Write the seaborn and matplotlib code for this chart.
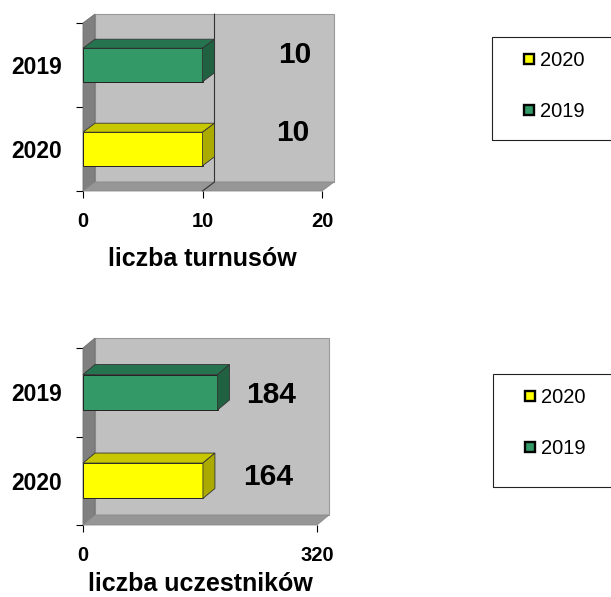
import matplotlib
matplotlib.use("Agg")
import matplotlib.pyplot as plt
import seaborn as sns
from matplotlib.patches import Polygon, Rectangle
from matplotlib.transforms import IdentityTransform
from matplotlib.lines import Line2D

# data
years = ["2019", "2020"]
turnusy = [10, 10]
uczestnicy = [184, 164]
legend_years = ["2020", "2019"]

front_col = {"2019": "#339966", "2020": "#FFFF00"}
top_col = {"2019": "#267350", "2020": "#C8C800"}
side_col = {"2019": "#1F6141", "2020": "#AAAA00"}

W, H = 611, 597

sns.set_style("white")
plt.rcParams["font.family"] = ["Liberation Sans", "DejaVu Sans"]
plt.rcParams["text.color"] = "black"
plt.rcParams["xtick.color"] = "black"
plt.rcParams["ytick.color"] = "black"
plt.rcParams["axes.labelcolor"] = "black"

fig = plt.figure(figsize=(W / 100, H / 100), dpi=100)
ident = IdentityTransform()


def poly(ax, pts, fc, z, ec="#333333", lw=0.6):
    ax.add_patch(Polygon(pts, closed=True, fc=fc, ec=ec, lw=lw, zorder=z,
                         transform=ident, clip_on=False))


def draw_chart(box, values, xmax, xticks, xlabel, depth, label_off, legend_box, lpad):
    l, t, r, b = box
    ax = fig.add_axes([l / W, 1 - b / H, (r - l) / W, (b - t) / H])
    sns.barplot(x=values, y=years, hue=years, palette=front_col, orient="h",
                width=0.4, saturation=1, edgecolor="#222222", linewidth=0.7,
                legend=False, ax=ax, zorder=5)
    ax.set_xlim(0, xmax)
    ax.set_ylim(1.5, -0.5)
    ax.set_facecolor("none")
    for s in ax.spines.values():
        s.set_visible(False)

    dx, dy = depth
    bb = ax.get_window_extent()
    x0, y0, x1, y1 = bb.x0, bb.y0, bb.x1, bb.y1

    # walls and floor
    ax.add_patch(Rectangle((x0 + dx, y0 + dy), x1 - x0, y1 - y0, fc="#C0C0C0",
                           ec="#9A9A9A", lw=0.8, zorder=0, transform=ident,
                           clip_on=False))
    poly(ax, [(x0, y0), (x0 + dx, y0 + dy), (x0 + dx, y1 + dy), (x0, y1)],
         "#808080", 1, ec="#707070")
    poly(ax, [(x0, y0), (x1, y0), (x1 + dx, y0 + dy), (x0 + dx, y0 + dy)],
         "#969696", 1, ec="#8A8A8A")

    # gridlines on the back wall
    for tk in xticks[1:-1]:
        xd = ax.transData.transform((tk, 0))[0]
        ax.add_line(Line2D([xd, xd + dx, xd + dx], [y0, y0 + dy, y1 + dy],
                           color="#333333", lw=0.8, zorder=2, transform=ident,
                           clip_on=False))

    # 3d faces of the bars
    for p in list(ax.patches):
        if not hasattr(p, "get_width") or p.get_width() == 0 or p.zorder != 5:
            continue
        yr = years[int(round(p.get_y() + p.get_height() / 2))]
        (bx0, ya), (bx1, yb) = ax.transData.transform(
            [(p.get_x(), p.get_y()), (p.get_x() + p.get_width(), p.get_y() + p.get_height())])
        top, bot = max(ya, yb), min(ya, yb)
        poly(ax, [(bx0, top), (bx1, top), (bx1 + dx, top + dy), (bx0 + dx, top + dy)],
             top_col[yr], 6)
        poly(ax, [(bx1, bot), (bx1 + dx, bot + dy), (bx1 + dx, top + dy), (bx1, top)],
             side_col[yr], 6)

    ax.set_xlim(0, xmax)
    ax.set_ylim(1.5, -0.5)

    # value labels
    for i, (v, off) in enumerate(zip(values, label_off)):
        ax.annotate(str(v), xy=(v, i), xytext=off, textcoords="offset pixels",
                    ha="center", va="center", fontsize=21.5, fontweight="bold",
                    color="black", zorder=8)

    # axes ticks
    ax.set_xticks(xticks)
    ax.set_xticklabels([str(x) for x in xticks], fontsize=14.5, fontweight="bold")
    ax.tick_params(axis="x", bottom=True, length=5, width=0.8, color="black",
                   direction="out", pad=10)
    ax.set_yticks([-0.5, 0.5, 1.5])
    ax.set_yticklabels([])
    ax.set_yticks([0, 1], minor=True)
    ax.set_yticklabels(years, minor=True, fontsize=16.5, fontweight="bold")
    ax.tick_params(axis="y", which="major", left=True, length=5, width=0.8,
                   color="black", direction="out")
    ax.tick_params(axis="y", which="minor", left=True, length=0, pad=15)
    ax.set_ylabel("")
    ax.set_xlabel(xlabel, fontsize=18, fontweight="bold", labelpad=lpad)

    # legend
    lx, ly_top, ly_bot = legend_box
    fig.add_artist(Rectangle((lx / W, 1 - ly_bot / H), (700 - lx) / W,
                             (ly_bot - ly_top) / H, fc="none", ec="#222222",
                             lw=0.8, transform=fig.transFigure))
    handles = [Line2D([], [], ls="none", marker="s", markersize=7,
                      markerfacecolor=front_col[y], markeredgecolor="black",
                      markeredgewidth=1.7, label=y) for y in legend_years]
    ax.legend(handles=handles, loc="upper left",
              bbox_to_anchor=((lx + 30) / W, 1 - (ly_top + 14) / H),
              bbox_transform=fig.transFigure, frameon=False, fontsize=14.5,
              handlelength=0.7, handletextpad=0.2, labelspacing=1.6,
              borderpad=0, borderaxespad=0)
    return ax


draw_chart((83, 23, 322, 191), turnusy, 20, [0, 10, 20], "liczba turnusów",
           (12, 9), [(92, 10), (90, 16)], (492, 37, 140), 12)
draw_chart((83, 348, 317, 525), uczestnicy, 320, [0, 320], "liczba uczestników",
           (12, 10), [(54, -3), (65, 4)], (493, 374, 487), 5)

fig.savefig("out.png", dpi=100)
